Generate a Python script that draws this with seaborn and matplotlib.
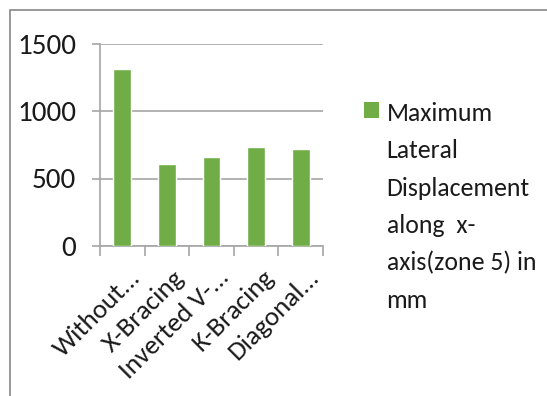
import matplotlib
matplotlib.use("Agg")
import matplotlib.pyplot as plt
from matplotlib.patches import Rectangle, Patch
from matplotlib import font_manager
import matplotlib.transforms as mtransforms
import seaborn as sns
import pandas as pd

categories = ["Without...", "X-Bracing", "Inverted V-...", "K-Bracing", "Diagonal..."]
displacement = [1311, 610, 657, 731, 718]
series_label = "Maximum\nLateral\nDisplacement\nalong  x-\naxis(zone 5) in\nmm"
y_ticks = [0, 500, 1000, 1500]

sns.set_style("white")
names = {f.name for f in font_manager.fontManager.ttflist}
preferred = [n for n in ["Carlito", "Lato"] if n in names]
plt.rcParams["font.family"] = preferred + ["DejaVu Sans"]

bar_color = "#70AD47"
grid_color = "#A6A6A6"
text_color = "#1a1a1a"

df = pd.DataFrame({"category": categories, "value": displacement})

fig = plt.figure(figsize=(5.47, 3.96), dpi=100)
ax = fig.add_axes([100 / 547, 150 / 396, 223 / 547, 202.5 / 396])

sns.barplot(data=df, x="category", y="value", color=bar_color, width=0.4,
            saturation=1, ax=ax, zorder=3)

ax.set_xlim(-0.5, len(categories) - 0.5)
ax.set_ylim(0, 1500)
ax.set_yticks(y_ticks)
ax.set_yticklabels([str(t) for t in y_ticks], fontsize=21, color=text_color)
ax.set_xlabel("")
ax.set_ylabel("")

# horizontal gridlines
ax.yaxis.grid(True, color=grid_color, linewidth=1.2, zorder=0)
ax.xaxis.grid(False)
ax.set_axisbelow(True)

for side in ["top", "right"]:
    ax.spines[side].set_visible(False)
for side in ["left", "bottom"]:
    ax.spines[side].set_color(grid_color)
    ax.spines[side].set_linewidth(1.2)

ax.tick_params(axis="y", length=6, width=1.2, color=grid_color, pad=11, left=True)

# category boundary tick marks below the axis
ax.set_xticks([i - 0.5 for i in range(len(categories) + 1)], minor=True)
ax.tick_params(axis="x", which="minor", length=7.5, width=1.2, color=grid_color, bottom=True)
ax.tick_params(axis="x", which="major", length=0, pad=14)
ax.set_xticks(range(len(categories)))
ax.set_xticklabels(categories, rotation=45, ha="right", rotation_mode="anchor",
                   fontsize=19.5, color=text_color)
offset = mtransforms.ScaledTranslation(4 / 72, 0, fig.dpi_scale_trans)
for lbl in ax.get_xticklabels():
    lbl.set_transform(lbl.get_transform() + offset)

# legend with the marker aligned to the first line
handle = Patch(facecolor=bar_color, edgecolor="none")
leg = fig.legend([handle], [series_label], loc="upper left",
                 bbox_to_anchor=(364 / 547, 1 - 102 / 396), frameon=False,
                 fontsize=18.5, handlelength=0.58, handleheight=0.58,
                 handletextpad=0.3, labelspacing=0, borderpad=0,
                 borderaxespad=0)
for txt in leg.get_texts():
    txt.set_color(text_color)
    txt.set_linespacing(1.75)
for col in leg._legend_handle_box.get_children():
    for item in col.get_children():
        item.align = "top"

# chart area border
fig.patches.append(Rectangle((10 / 547, -0.1), 1.2, 1 - 10 / 396 + 0.1,
                             transform=fig.transFigure, fill=False,
                             edgecolor="#868686", linewidth=1.2))

fig.savefig("out.png", dpi=100)
